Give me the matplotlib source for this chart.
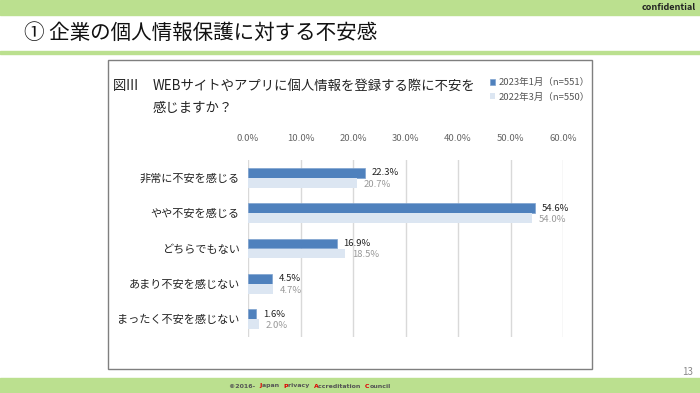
import numpy as np
import matplotlib.pyplot as plt
from matplotlib.patches import Rectangle
from matplotlib.offsetbox import TextArea, HPacker, AnchoredOffsetbox

plt.rcParams['font.family'] = ['Noto Sans CJK JP', 'DejaVu Sans']

categories = ['非常に不安を感じる', 'やや不安を感じる', 'どちらでもない',
              'あまり不安を感じない', 'まったく不安を感じない']
vals_2023 = [22.3, 54.6, 16.9, 4.5, 1.6]
vals_2022 = [20.7, 54.0, 18.5, 4.7, 2.0]
series_names = ['2023年1月（n=551）', '2022年3月（n=550）']
xticks = [0, 10, 20, 30, 40, 50, 60]

blue = '#4F81BD'
light = '#DCE6F2'
green = '#BBE08F'

fig = plt.figure(figsize=(7, 3.93), dpi=100)
W, H = 700, 393

def fx(px):
    return px / W

def fy(py):
    return 1 - py / H

# green bands
fig.patches.append(Rectangle((0, fy(15)), 1, 15 / H, transform=fig.transFigure,
                             color=green, zorder=0))
fig.patches.append(Rectangle((0, fy(54)), 1, 3 / H, transform=fig.transFigure,
                             color=green, zorder=0))
fig.patches.append(Rectangle((0, 0), 1, 15 / H, transform=fig.transFigure,
                             color=green, zorder=0))
fig.text(fx(696), fy(8), 'confidential', ha='right', va='center',
         fontsize=6.5, fontweight='bold', color='#222222')
fig.text(fx(24), fy(33), '① 企業の個人情報保護に対する不安感', ha='left', va='center',
         fontsize=14.8, color='#111111')
fig.text(fx(693), fy(372), '13', ha='right', va='center', fontsize=7, color='#888888')

# chart frame
fig.patches.append(Rectangle((fx(108), fy(369)), fx(592) - fx(108), fy(60) - fy(369),
                             transform=fig.transFigure, fill=False,
                             edgecolor='#7F7F7F', lw=1.0))
fig.text(fx(113), fy(86), '図Ⅲ', ha='left', va='center', fontsize=9.6, color='#222222')
fig.text(fx(153), fy(86), 'WEBサイトやアプリに個人情報を登録する際に不安を',
         ha='left', va='center', fontsize=9.6, color='#222222')
fig.text(fx(153), fy(108), '感じますか？', ha='left', va='center', fontsize=9.6,
         color='#222222')

ax = fig.add_axes([fx(248), fy(337), fx(563) - fx(248), fy(160) - fy(337)])
y = np.arange(len(categories))
off = 0.14
h = 0.28
b1 = ax.barh(y - off, vals_2023, height=h, color=blue, edgecolor='#7FA3D0',
             lw=0.5, label=series_names[0], zorder=3)
b2 = ax.barh(y + off, vals_2022, height=h, color=light, label=series_names[1],
             zorder=3)
for yi, v in zip(y, vals_2023):
    ax.annotate(f'{v:.1f}%', (v, yi - off), xytext=(5, 0), textcoords='offset points',
                va='center', ha='left', fontsize=6.8, color='#222222')
for yi, v in zip(y, vals_2022):
    ax.annotate(f'{v:.1f}%', (v, yi + off + 0.04), xytext=(5, 0),
                textcoords='offset points', va='center', ha='left', fontsize=6.8,
                color='#999999')

ax.set_xlim(0, 60)
ax.set_ylim(len(categories) - 0.5, -0.5)
ax.set_xticks(xticks)
ax.set_xticklabels([f'{t:.1f}%' for t in xticks], fontsize=6.8, color='#666666')
ax.xaxis.tick_top()
ax.set_yticks(y)
ax.set_yticklabels(categories, fontsize=8, color='#222222')
ax.tick_params(length=0, pad=6)
ax.tick_params(axis='x', pad=12)
ax.grid(axis='x', color='#D9D9D9', lw=1, zorder=0)
for s in ax.spines.values():
    s.set_visible(False)

leg = fig.legend(handles=[b1, b2], loc='upper left',
                 bbox_to_anchor=(fx(486), fy(74)), frameon=False, fontsize=6.8,
                 handlelength=0.6, handleheight=0.6, handletextpad=0.3,
                 labelspacing=0.6, borderaxespad=0)
for t in leg.get_texts():
    t.set_color('#555555')

# footer
parts = [('©2016-  ', '#555555'), ('J', '#E00000'), ('apan  ', '#555555'),
         ('P', '#E00000'), ('rivacy  ', '#555555'), ('A', '#E00000'),
         ('ccreditation  ', '#555555'), ('C', '#E00000'), ('ouncil', '#555555')]
areas = [TextArea(s, textprops=dict(color=c, fontsize=4.5, family='DejaVu Sans',
                                    fontweight='bold'))
         for s, c in parts]
pack = HPacker(children=areas, pad=0, sep=0)
anch = AnchoredOffsetbox(loc='center', child=pack, frameon=False,
                         bbox_to_anchor=(fx(310), fy(386)),
                         bbox_transform=fig.transFigure, borderpad=0)
fig.add_artist(anch)

fig.savefig('out.png', dpi=100)
